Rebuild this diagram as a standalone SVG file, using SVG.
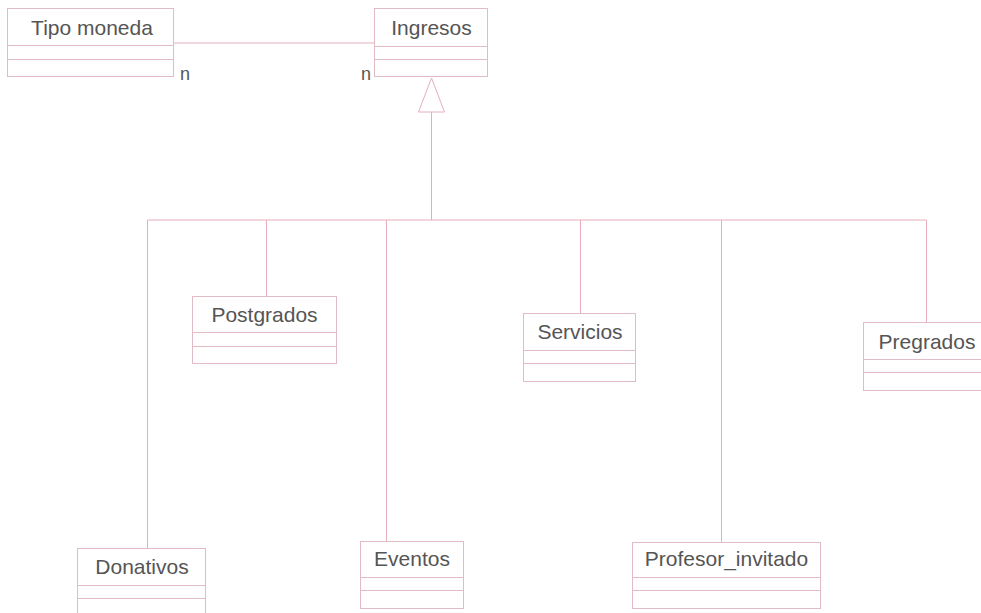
<svg xmlns="http://www.w3.org/2000/svg" width="981" height="613" viewBox="0 0 981 613">
  <style>
    .box { fill: #ffffff; stroke: #e2bcc5; stroke-width: 1; }
    .sep { stroke: #e2bcc5; stroke-width: 1; }
    .lbl { font-family: "Liberation Sans", Arial, sans-serif; font-size: 21px; fill: #555555; text-anchor: middle; }
    .mult { font-family: "Liberation Sans", Arial, sans-serif; font-size: 18px; fill: #555555; }
    .conn { fill: none; stroke: #e6aebb; stroke-width: 1; }
  </style>
  <rect width="981" height="613" fill="#ffffff"/>

  <!-- connectors -->
  <g id="connectors">
    <line class="conn" x1="173" y1="43" x2="374" y2="43"/>
    <text class="mult" x="180" y="80">n</text>
    <text class="mult" x="361" y="80">n</text>
    <!-- generalization -->
    <polygon class="conn" fill="#ffffff" points="431.5,78 418.5,112 444.5,112"/>
    <line class="conn" x1="431.5" y1="112" x2="431.5" y2="220"/>
    <line class="conn" x1="147.5" y1="220" x2="926.5" y2="220"/>
    <line class="conn" x1="147.5" y1="220" x2="147.5" y2="548"/>
    <line class="conn" x1="266.5" y1="220" x2="266.5" y2="296"/>
    <line class="conn" x1="386.5" y1="220" x2="386.5" y2="541"/>
    <line class="conn" x1="580.5" y1="220" x2="580.5" y2="313"/>
    <line class="conn" x1="721.5" y1="220" x2="721.5" y2="542"/>
    <line class="conn" x1="926.5" y1="220" x2="926.5" y2="322"/>
  </g>

  <g id="tipo-moneda">
    <rect class="box" x="7.5" y="8.5" width="166" height="68"/>
    <line class="sep" x1="7.5" y1="45.5" x2="173.5" y2="45.5"/>
    <line class="sep" x1="7.5" y1="59.5" x2="173.5" y2="59.5"/>
    <text class="lbl" x="92" y="35">Tipo moneda</text>
  </g>

  <g id="ingresos">
    <rect class="box" x="374.5" y="8.5" width="113" height="68"/>
    <line class="sep" x1="374.5" y1="46.5" x2="487.5" y2="46.5"/>
    <line class="sep" x1="374.5" y1="59.5" x2="487.5" y2="59.5"/>
    <text class="lbl" x="431.5" y="35">Ingresos</text>
  </g>

  <g id="postgrados">
    <rect class="box" x="192.5" y="296.5" width="144" height="67"/>
    <line class="sep" x1="192.5" y1="332.5" x2="336.5" y2="332.5"/>
    <line class="sep" x1="192.5" y1="346.5" x2="336.5" y2="346.5"/>
    <text class="lbl" x="264.5" y="322">Postgrados</text>
  </g>

  <g id="servicios">
    <rect class="box" x="523.5" y="313.5" width="112" height="68"/>
    <line class="sep" x1="523.5" y1="350.5" x2="635.5" y2="350.5"/>
    <line class="sep" x1="523.5" y1="363.5" x2="635.5" y2="363.5"/>
    <text class="lbl" x="580" y="339">Servicios</text>
  </g>

  <g id="pregrados">
    <rect class="box" x="863.5" y="322.5" width="130" height="68"/>
    <line class="sep" x1="863.5" y1="359.5" x2="993.5" y2="359.5"/>
    <line class="sep" x1="863.5" y1="372.5" x2="993.5" y2="372.5"/>
    <text class="lbl" x="927" y="349">Pregrados</text>
  </g>

  <g id="donativos">
    <rect class="box" x="77.5" y="548.5" width="128" height="70"/>
    <line class="sep" x1="77.5" y1="585.5" x2="205.5" y2="585.5"/>
    <line class="sep" x1="77.5" y1="598.5" x2="205.5" y2="598.5"/>
    <text class="lbl" x="142" y="574">Donativos</text>
  </g>

  <g id="eventos">
    <rect class="box" x="360.5" y="541.5" width="103" height="67"/>
    <line class="sep" x1="360.5" y1="577.5" x2="463.5" y2="577.5"/>
    <line class="sep" x1="360.5" y1="590.5" x2="463.5" y2="590.5"/>
    <text class="lbl" x="412" y="566">Eventos</text>
  </g>

  <g id="profesor-invitado">
    <rect class="box" x="632.5" y="542.5" width="188" height="66"/>
    <line class="sep" x1="632.5" y1="577.5" x2="820.5" y2="577.5"/>
    <line class="sep" x1="632.5" y1="590.5" x2="820.5" y2="590.5"/>
    <text class="lbl" x="726.5" y="566">Profesor_invitado</text>
  </g>
</svg>
